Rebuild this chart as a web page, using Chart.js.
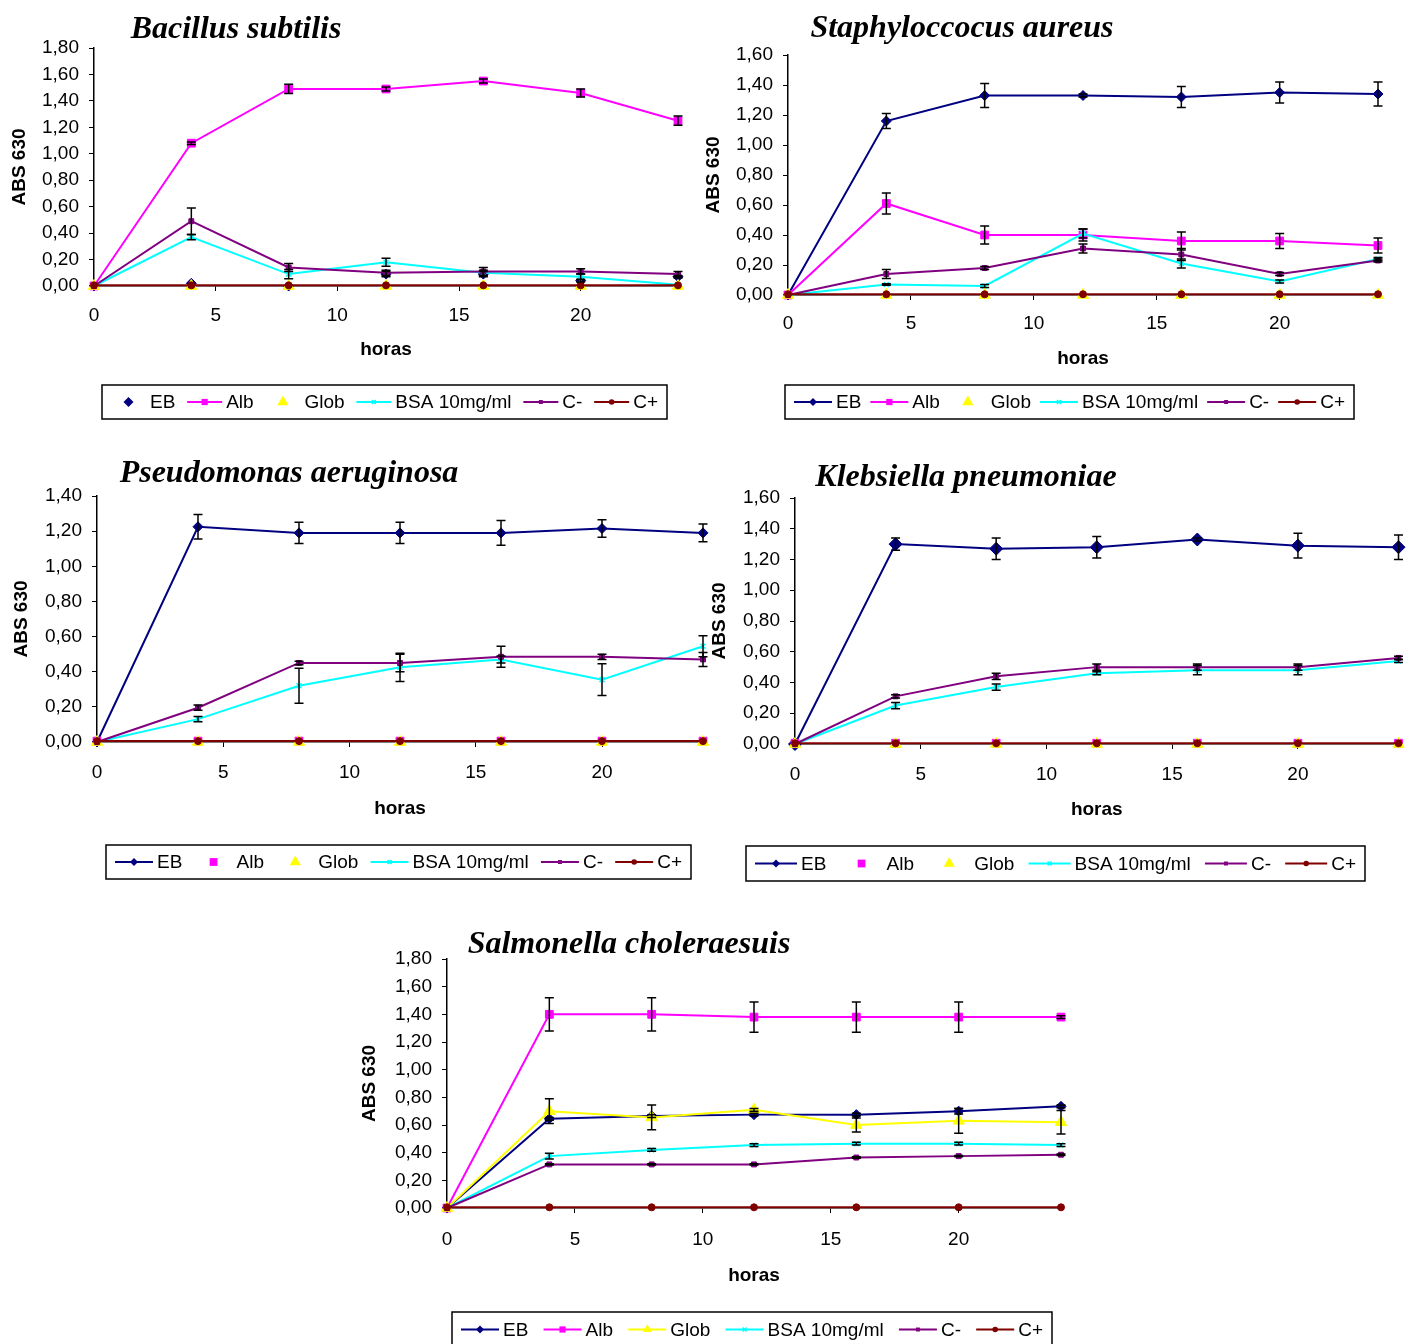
<!DOCTYPE html>
<html>
<head>
<meta charset="utf-8">
<title>Crecimiento bacteriano (ABS 630)</title>
<script src="https://cdn.jsdelivr.net/npm/chart.js@4.4.1/dist/chart.umd.min.js"></script>
<style>
  html, body { margin: 0; padding: 0; background: #ffffff; }
  #page { position: relative; width: 1406px; height: 1344px; overflow: hidden; background: #ffffff; }
  #page canvas { position: absolute; left: 0; top: 0; }
</style>
</head>
<body>
<div id="page">
  <canvas id="bacillus" width="1406" height="1344"></canvas>
  <canvas id="staph" width="1406" height="1344"></canvas>
  <canvas id="pseudo" width="1406" height="1344"></canvas>
  <canvas id="klebs" width="1406" height="1344"></canvas>
  <canvas id="salmo" width="1406" height="1344"></canvas>
</div>
<script>
// ---- data -------------------------------------------------------------
const hours = [0, 4, 8, 12, 16, 20, 24];
const seriesNames = ['EB', 'Alb', 'Glob', 'BSA 10mg/ml', 'C-', 'C+'];
const yTickStep = 0.2;
const xTickStep = 5;
const xMax = 24;

// Bacillus subtilis
const bacillusEB      = [0, 0.02, 0.00, 0.09, 0.09, 0.04, 0.07];
const bacillusAlb     = [0, 1.08, 1.49, 1.49, 1.55, 1.46, 1.25];
const bacillusGlob    = [0, 0, 0, 0, 0, 0, 0];
const bacillusBSA     = [0, 0.37, 0.09, 0.18, 0.10, 0.07, 0.01];
const bacillusCneg    = [0, 0.49, 0.14, 0.10, 0.11, 0.11, 0.09];
const bacillusCpos    = [0.005, 0.005, 0.005, 0.005, 0.005, 0.005, 0.005];
const bacillusEBErr   = [0, 0, 0, 0.02, 0.02, 0.01, 0.01];
const bacillusAlbErr  = [0, 0.01, 0.035, 0.015, 0.015, 0.03, 0.035];
const bacillusBSAErr  = [0, 0.02, 0.035, 0.03, 0.02, 0.02, 0];
const bacillusCnegErr = [0, 0.10, 0.03, 0.02, 0.03, 0.02, 0.02];

// Staphyloccocus aureus
const staphEB      = [0, 1.16, 1.33, 1.33, 1.32, 1.35, 1.34];
const staphAlb     = [0, 0.61, 0.40, 0.40, 0.36, 0.36, 0.33];
const staphGlob    = [0, 0, 0, 0, 0, 0, 0];
const staphBSA     = [0, 0.07, 0.06, 0.41, 0.21, 0.09, 0.24];
const staphCneg    = [0, 0.14, 0.18, 0.31, 0.27, 0.14, 0.23];
const staphCpos    = [0.005, 0.005, 0.005, 0.005, 0.005, 0.005, 0.005];
const staphEBErr   = [0, 0.05, 0.08, 0.01, 0.07, 0.07, 0.08];
const staphAlbErr  = [0, 0.07, 0.06, 0.04, 0.06, 0.05, 0.05];
const staphBSAErr  = [0, 0.005, 0.01, 0.03, 0.03, 0.01, 0.01];
const staphCnegErr = [0, 0.03, 0.01, 0.03, 0.04, 0.01, 0.01];

// Pseudomonas aeruginosa
const pseudoEB      = [0, 1.225, 1.19, 1.19, 1.19, 1.215, 1.19];
const pseudoAlb     = [0.005, 0.005, 0.005, 0.005, 0.005, 0.005, 0.005];
const pseudoGlob    = [0, 0, 0, 0, 0, 0, 0];
const pseudoBSA     = [0, 0.13, 0.32, 0.425, 0.47, 0.355, 0.545];
const pseudoCneg    = [0, 0.195, 0.45, 0.45, 0.485, 0.485, 0.47];
const pseudoCpos    = [0.005, 0.005, 0.005, 0.005, 0.005, 0.005, 0.005];
const pseudoEBErr   = [0, 0.07, 0.06, 0.06, 0.07, 0.05, 0.05];
const pseudoBSAErr  = [0, 0.015, 0.10, 0.08, 0.02, 0.09, 0.06];
const pseudoCnegErr = [0, 0.015, 0.01, 0.05, 0.06, 0.015, 0.04];

// Klebsiella pneumoniae
const klebsEB      = [0, 1.30, 1.27, 1.28, 1.33, 1.29, 1.28];
const klebsAlb     = [0.005, 0.005, 0.005, 0.005, 0.005, 0.005, 0.005];
const klebsGlob    = [0, 0, 0, 0, 0, 0, 0];
const klebsBSA     = [0, 0.25, 0.37, 0.46, 0.48, 0.48, 0.54];
const klebsCneg    = [0, 0.31, 0.44, 0.50, 0.50, 0.50, 0.56];
const klebsCpos    = [0.005, 0.005, 0.005, 0.005, 0.005, 0.005, 0.005];
const klebsEBErr   = [0, 0.04, 0.07, 0.07, 0.01, 0.08, 0.08];
const klebsBSAErr  = [0, 0.02, 0.02, 0.01, 0.03, 0.03, 0.01];
const klebsCnegErr = [0, 0.01, 0.02, 0.02, 0.02, 0.02, 0.01];

// Salmonella choleraesuis
const salmoEB      = [0, 0.645, 0.665, 0.675, 0.675, 0.70, 0.735];
const salmoAlb     = [0, 1.40, 1.40, 1.38, 1.38, 1.38, 1.38];
const salmoGlob    = [0, 0.70, 0.655, 0.71, 0.60, 0.63, 0.62];
const salmoBSA     = [0, 0.375, 0.42, 0.455, 0.465, 0.465, 0.455];
const salmoCneg    = [0, 0.315, 0.315, 0.315, 0.365, 0.375, 0.385];
const salmoCpos    = [0.005, 0.005, 0.005, 0.005, 0.005, 0.005, 0.005];
const salmoEBErr   = [0, 0.01, 0.01, 0.01, 0.01, 0.02, 0.01];
const salmoAlbErr  = [0, 0.12, 0.12, 0.11, 0.11, 0.11, 0.01];
const salmoGlobErr = [0, 0.09, 0.09, 0.01, 0.05, 0.09, 0.085];
const salmoBSAErr  = [0, 0.02, 0.01, 0.01, 0.01, 0.01, 0.01];
const salmoCnegErr = [0, 0.005, 0.005, 0.005, 0.005, 0.005, 0.005];

const noErr = [0, 0, 0, 0, 0, 0, 0];

// ---- series styling ---------------------------------------------------
const seriesStyle = [
  { color: '#000080', point: 'rectRot',  radius: 5 },
  { color: '#FF00FF', point: 'rect',     radius: 5.5 },
  { color: '#FFFF00', point: 'triangle', radius: 6.5 },
  { color: '#00FFFF', point: 'crossRot', radius: 3.5 },
  { color: '#800080', point: 'rect',     radius: 3.5 },
  { color: '#800000', point: 'circle',   radius: 3.5 }
];

const FONT = "'Liberation Sans', Arial, sans-serif";
Chart.defaults.font.family = FONT;
Chart.defaults.color = '#000000';

function fmtTick(v) {
  return v.toFixed(2).replace('.', ',');
}

// marker shapes used in the legend keys
function drawMarker(ctx, style, x, y, r, color) {
  ctx.save();
  ctx.fillStyle = color;
  ctx.strokeStyle = color;
  ctx.lineWidth = 1.5;
  ctx.beginPath();
  if (style === 'rectRot') {
    ctx.moveTo(x, y - r); ctx.lineTo(x + r, y); ctx.lineTo(x, y + r); ctx.lineTo(x - r, y);
    ctx.closePath(); ctx.fill();
  } else if (style === 'rect') {
    const s = r * Math.SQRT1_2;
    ctx.fillRect(x - s, y - s, 2 * s, 2 * s);
  } else if (style === 'triangle') {
    ctx.moveTo(x, y - r);
    ctx.lineTo(x + r * Math.sin(2 * Math.PI / 3), y + r * 0.5);
    ctx.lineTo(x - r * Math.sin(2 * Math.PI / 3), y + r * 0.5);
    ctx.closePath(); ctx.fill();
  } else if (style === 'crossRot') {
    const s = r * Math.SQRT1_2;
    ctx.moveTo(x - s, y - s); ctx.lineTo(x + s, y + s);
    ctx.moveTo(x + s, y - s); ctx.lineTo(x - s, y + s);
    ctx.stroke();
  } else {
    ctx.arc(x, y, r, 0, Math.PI * 2); ctx.fill();
  }
  ctx.restore();
}

// species title + boxed legend
const panelDecor = {
  id: 'panelDecor',
  afterDraw(chart, args, opts) {
    const ctx = chart.ctx;
    ctx.save();
    ctx.fillStyle = '#000';
    ctx.font = "italic bold 32px 'Liberation Serif', 'Times New Roman', serif";
    ctx.textAlign = 'center';
    ctx.textBaseline = 'middle';
    ctx.fillText(opts.title, opts.titleX, opts.titleY);

    const b = opts.legendBox;
    ctx.lineWidth = 1.5;
    ctx.strokeStyle = '#000';
    ctx.strokeRect(b.x1, b.y1, b.x2 - b.x1, b.y2 - b.y1);

    ctx.font = '19px ' + FONT;
    ctx.textAlign = 'left';
    const symW = opts.symW, gapText = 4, pad = 9;
    const widths = seriesNames.map(n => ctx.measureText(n).width);
    const used = seriesNames.length * (symW + gapText) + widths.reduce((a, c) => a + c, 0);
    const gap = (b.x2 - b.x1 - 2 * pad - used) / (seriesNames.length - 1);
    const cy = (b.y1 + Math.min(b.y2, b.y1 + 35)) / 2;
    let x = b.x1 + pad;
    seriesNames.forEach((name, i) => {
      const st = seriesStyle[i];
      if (opts.lines[i]) {
        ctx.strokeStyle = st.color;
        ctx.lineWidth = 2;
        ctx.beginPath();
        ctx.moveTo(x, cy); ctx.lineTo(x + symW, cy);
        ctx.stroke();
      }
      drawMarker(ctx, st.point, x + symW / 2, cy, opts.lines[i] ? st.radius * 0.8 : st.radius, st.color);
      ctx.fillStyle = '#000';
      ctx.fillText(name, x + symW + gapText, cy + 1);
      x += symW + gapText + widths[i] + gap;
    });
    ctx.restore();
  }
};

// vertical error bars with caps, drawn from each dataset's `errors`
const errorBars = {
  id: 'errorBars',
  afterDatasetsDraw(chart) {
    const ctx = chart.ctx;
    const xs = chart.scales.x, ys = chart.scales.y;
    ctx.save();
    ctx.strokeStyle = '#000';
    ctx.lineWidth = 1.5;
    chart.data.datasets.forEach(ds => {
      (ds.errors || []).forEach((e, j) => {
        if (!e) return;
        const v = ds.data[j].y;
        const px = xs.getPixelForValue(ds.data[j].x);
        const top = ys.getPixelForValue(v + e);
        const bot = ys.getPixelForValue(v - e);
        ctx.beginPath();
        ctx.moveTo(px, top); ctx.lineTo(px, bot);
        ctx.moveTo(px - 4.5, top); ctx.lineTo(px + 4.5, top);
        ctx.moveTo(px - 4.5, bot); ctx.lineTo(px + 4.5, bot);
        ctx.stroke();
      });
    });
    ctx.restore();
  }
};

const panels = [
  {
    canvas: 'bacillus', title: 'Bacillus subtilis', titleX: 236, titleY: 30,
    plot: { L: 94, T: 48, R: 678, B: 286 }, yMax: 1.8, yLabelX: 20, xLabelY: 350, xTickPad: 13,
    legendBox: { x1: 102, y1: 385, x2: 667, y2: 419 }, symW: 35,
    lines: [false, true, false, true, true, true],
    values: [bacillusEB, bacillusAlb, bacillusGlob, bacillusBSA, bacillusCneg, bacillusCpos],
    errors: [bacillusEBErr, bacillusAlbErr, noErr, bacillusBSAErr, bacillusCnegErr, noErr],
    ebRadius: 5
  },
  {
    canvas: 'staph', title: 'Staphyloccocus aureus', titleX: 962, titleY: 29,
    plot: { L: 788, T: 55, R: 1378, B: 295 }, yMax: 1.6, yLabelX: 714, xLabelY: 359, xTickPad: 12,
    legendBox: { x1: 785, y1: 385, x2: 1354, y2: 419 }, symW: 38,
    lines: [true, true, false, true, true, true],
    values: [staphEB, staphAlb, staphGlob, staphBSA, staphCneg, staphCpos],
    errors: [staphEBErr, staphAlbErr, noErr, staphBSAErr, staphCnegErr, noErr],
    ebRadius: 5
  },
  {
    canvas: 'pseudo', title: 'Pseudomonas aeruginosa', titleX: 289, titleY: 474,
    plot: { L: 97, T: 496, R: 703, B: 742 }, yMax: 1.4, yLabelX: 22, xLabelY: 809, xTickPad: 14,
    legendBox: { x1: 106, y1: 845, x2: 691, y2: 879 }, symW: 38,
    lines: [true, false, false, true, true, true],
    values: [pseudoEB, pseudoAlb, pseudoGlob, pseudoBSA, pseudoCneg, pseudoCpos],
    errors: [pseudoEBErr, noErr, noErr, pseudoBSAErr, pseudoCnegErr, noErr],
    ebRadius: 5
  },
  {
    canvas: 'klebs', title: 'Klebsiella pneumoniae', titleX: 966, titleY: 478,
    plot: { L: 795, T: 498, R: 1400, B: 744 }, yMax: 1.6, yLabelX: 720, xLabelY: 810, xTickPad: 14,
    legendBox: { x1: 746, y1: 846, x2: 1365, y2: 881 }, symW: 42,
    lines: [true, false, false, true, true, true],
    values: [klebsEB, klebsAlb, klebsGlob, klebsBSA, klebsCneg, klebsCpos],
    errors: [klebsEBErr, noErr, noErr, klebsBSAErr, klebsCnegErr, noErr],
    ebRadius: 6.5
  },
  {
    canvas: 'salmo', title: 'Salmonella choleraesuis', titleX: 629, titleY: 945,
    plot: { L: 447, T: 959, R: 1061, B: 1208 }, yMax: 1.8, yLabelX: 370, xLabelY: 1276, xTickPad: 15,
    legendBox: { x1: 452, y1: 1312, x2: 1052, y2: 1352 }, symW: 38,
    lines: [true, true, true, true, true, true],
    values: [salmoEB, salmoAlb, salmoGlob, salmoBSA, salmoCneg, salmoCpos],
    errors: [salmoEBErr, salmoAlbErr, salmoGlobErr, salmoBSAErr, salmoCnegErr, noErr],
    ebRadius: 5
  }
];

const W = 1406, H = 1344;

panels.forEach(p => {
  const titleLH = 19;                      // axis title line height (font 19px, lineHeight 1)
  const padLeft = p.yLabelX - titleLH / 2;
  const yWidth = p.plot.L - padLeft;
  const padBottom = H - (p.xLabelY + titleLH / 2);
  const xHeight = (H - padBottom) - p.plot.B;

  const datasets = seriesNames.map((name, i) => {
    const st = seriesStyle[i];
    const r = i === 0 ? p.ebRadius : st.radius;
    return {
      label: name,
      data: hours.map((h, j) => ({ x: h, y: p.values[i][j] })),
      errors: p.errors[i],
      showLine: p.lines[i],
      borderColor: st.color,
      backgroundColor: st.color,
      borderWidth: 2,
      pointStyle: st.point,
      pointRadius: r,
      pointHoverRadius: r,
      pointBackgroundColor: st.color,
      pointBorderColor: st.color,
      pointBorderWidth: st.point === 'crossRot' ? 1.5 : 1,
      tension: 0,
      clip: false,
      order: seriesNames.length - i
    };
  });

  new Chart(document.getElementById(p.canvas), {
    type: 'scatter',
    data: { datasets },
    plugins: [errorBars, panelDecor],
    options: {
      responsive: false,
      animation: false,
      devicePixelRatio: 1,
      events: [],
      layout: {
        padding: { left: padLeft, top: p.plot.T, right: W - p.plot.R, bottom: padBottom }
      },
      plugins: {
        legend: { display: false },
        title: { display: false },
        tooltip: { enabled: false },
        panelDecor: {
          title: p.title, titleX: p.titleX, titleY: p.titleY,
          legendBox: p.legendBox, symW: p.symW, lines: p.lines
        }
      },
      scales: {
        x: {
          type: 'linear', min: 0, max: xMax,
          ticks: { stepSize: xTickStep, includeBounds: false, padding: p.xTickPad, maxRotation: 0,
                   color: '#000', font: { size: 19 } },
          grid: { drawOnChartArea: false, drawTicks: true, tickLength: 5, color: '#000', lineWidth: 1 },
          border: { display: true, color: '#000', width: 1.5 },
          title: { display: true, text: 'horas', color: '#000', padding: 0,
                   font: { size: 19, weight: 'bold', lineHeight: 1 } },
          afterFit(s) { s.height = xHeight; }
        },
        y: {
          type: 'linear', min: 0, max: p.yMax,
          ticks: { stepSize: yTickStep, padding: 10, color: '#000', font: { size: 19 },
                   callback: v => fmtTick(v) },
          grid: { drawOnChartArea: false, drawTicks: true, tickLength: 5, color: '#000', lineWidth: 1 },
          border: { display: true, color: '#000', width: 1.5 },
          title: { display: true, text: 'ABS 630', color: '#000', padding: 0,
                   font: { size: 19, weight: 'bold', lineHeight: 1 } },
          afterFit(s) { s.width = yWidth; }
        }
      }
    }
  });
});
</script>
</body>
</html>
